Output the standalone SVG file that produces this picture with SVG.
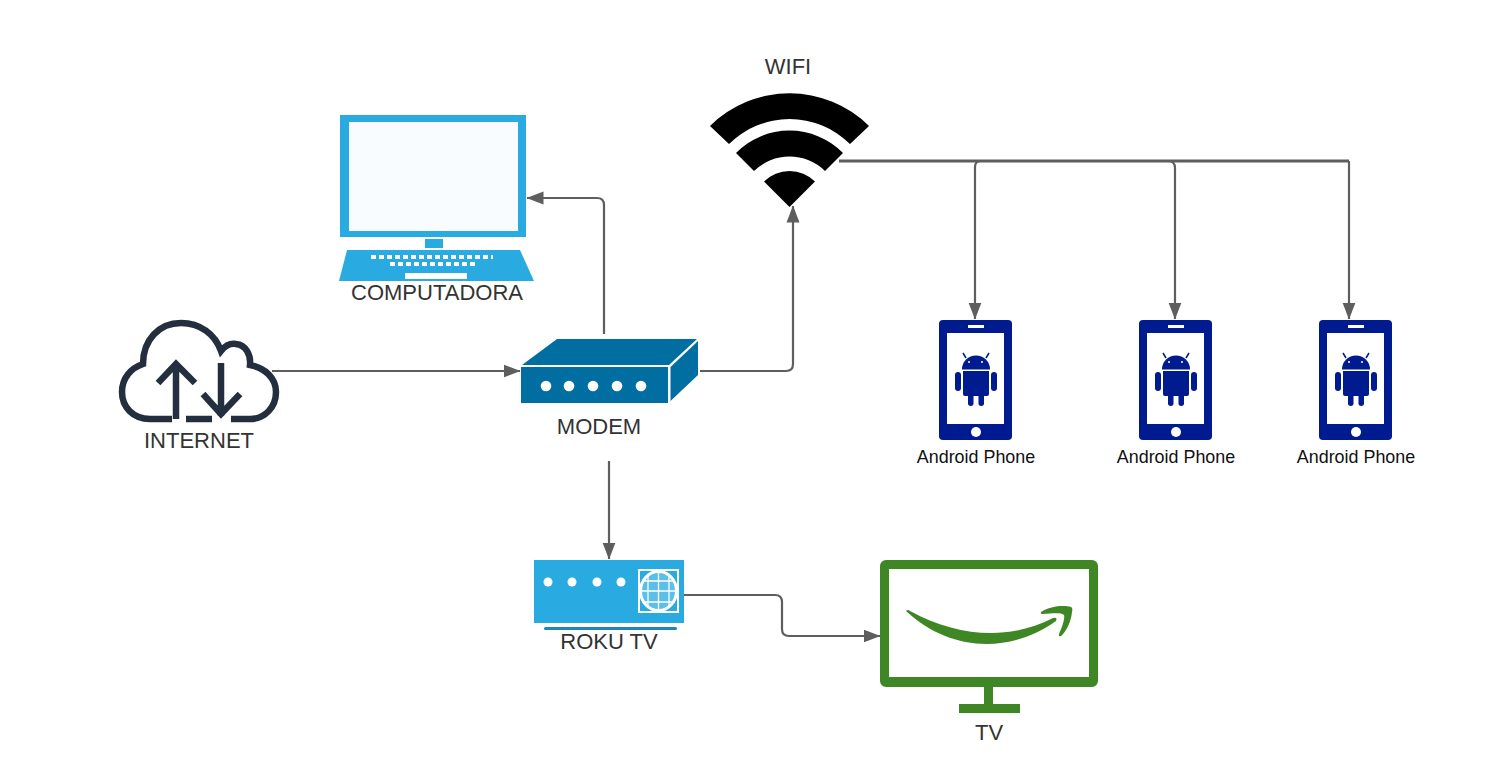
<svg xmlns="http://www.w3.org/2000/svg" xmlns:xlink="http://www.w3.org/1999/xlink" width="1502" height="783" viewBox="0 0 1502 783">
<style>
text{font-family:"Liberation Sans",Arial,sans-serif;text-anchor:middle}
.lbl{font-size:22px;fill:#333}
.ph{font-size:17.9px;fill:#111}
.c{fill:none;stroke:#5e5e5e;stroke-width:2.200;stroke-linejoin:round}
.blue{fill:#29abe2}
.teal{fill:#006ea1}
.navy{fill:#001a8f}
.green{fill:#3f8624}
.w{fill:#fff}
</style>
<defs>
<marker id="arr" markerUnits="userSpaceOnUse" markerWidth="18" markerHeight="14" refX="16.500" refY="7" orient="auto"><path d="M0 0.500L17 7L0 13.500Z" fill="#5e5e5e"/></marker>
<g id="phone">
<rect x="0" y="0" width="73" height="120" rx="4" class="navy"/>
<rect x="8" y="13" width="57" height="91" class="w"/>
<rect x="29" y="5" width="16" height="3" class="w"/>
<circle cx="37" cy="112" r="5" class="w"/>
<path d="M23 49.500a14 14 0 0 1 28 0Z" class="navy"/>
<path d="M27 38L24 33M47 38L50 33" stroke="#001a8f" stroke-width="1.500" fill="none"/>
<circle cx="30" cy="42" r="1" class="w"/><circle cx="43" cy="42" r="1" class="w"/>
<path d="M24 51H50V74a2 2 0 0 1-2 2H26a2 2 0 0 1-2-2Z" class="navy"/>
<rect x="16" y="52" width="6" height="19" rx="3" class="navy"/>
<rect x="52" y="52" width="6" height="19" rx="3" class="navy"/>
<rect x="29" y="72" width="5.500" height="14" rx="2.700" class="navy"/>
<rect x="39.500" y="72" width="5.500" height="14" rx="2.700" class="navy"/>
</g>
</defs>
<rect width="1502" height="783" fill="#fff"/>
<g id="connectors">
<path class="c" marker-end="url(#arr)" d="M272 371H520"/>
<path class="c" marker-end="url(#arr)" d="M604 334V205Q604 198 597 198H527"/>
<path class="c" marker-end="url(#arr)" d="M700 371H786Q793 371 793 364V206"/>
<path class="c" style="stroke-width:3" d="M839 161H1349"/>
<path class="c" marker-end="url(#arr)" d="M981 161Q975 161 975 167V319"/>
<path class="c" marker-end="url(#arr)" d="M1168 161Q1175 161 1175 168V319"/>
<path class="c" marker-end="url(#arr)" d="M1349 161V319"/>
<path class="c" marker-end="url(#arr)" d="M609 461V559"/>
<path class="c" marker-end="url(#arr)" d="M684 595H775Q782 595 782 602V629Q782 636 789 636H880"/>
</g>
<g id="computadora">
<rect x="340" y="115" width="186" height="122" class="blue"/>
<rect x="349" y="122" width="169" height="109" fill="#f8fcfe"/>
<rect x="425" y="239" width="18" height="9" class="blue"/>
<path d="M347 250H520L534 281H339Z" class="blue"/>
<path d="M371 257H493M390 264H476" stroke="#fff" stroke-width="4" stroke-dasharray="5 3" fill="none"/>
<rect x="405" y="273" width="62" height="6" class="w"/>
<text class="lbl" x="437" y="300">COMPUTADORA</text>
</g>
<g id="internet">
<path d="M172 419H150C133 419 122 407 122 392C122 378 131 368 143 364C143 340 159 323 181 323C200 323 215 334 221 351C225 346 230 343 236 344C246 345 251 355 250 365C265 368 276 378 276 392C276 407 265 419 250 419H231M212 419H186" fill="none" stroke="#232f3e" stroke-width="6.500"/>
<path d="M176 419V364M158 383L176 364L195 383M221 363V416M203 394L221 414L240 394" fill="none" stroke="#232f3e" stroke-width="6.500"/>
<text class="lbl" x="199" y="448">INTERNET</text>
</g>
<g id="modem">
<rect x="521" y="367" width="147" height="36" class="teal"/>
<path d="M522 365L557 339H697L669 365Z" class="teal"/>
<path d="M670.500 367L698 341V375L670.500 401Z" class="teal"/>
<circle cx="546" cy="386" r="5.300" class="w"/><circle cx="569" cy="386" r="5.300" class="w"/><circle cx="593" cy="386" r="5.300" class="w"/><circle cx="617" cy="386" r="5.300" class="w"/><circle cx="641" cy="386" r="5.300" class="w"/>
<text class="lbl" x="599" y="434">MODEM</text>
</g>
<g id="wifi">
<path d="M789.500 207L764 181.500A36 36 0 0 1 815 181.500Z" fill="#000"/>
<path d="M736 153A75 75 0 0 1 843 153L825 171A51 51 0 0 0 754 171Z" fill="#000"/>
<path d="M710 126A113 113 0 0 1 869 126L850 144A86 86 0 0 0 729 144Z" fill="#000"/>
<text class="lbl" x="788" y="74">WIFI</text>
</g>
<g id="phone1"><use xlink:href="#phone" href="#phone" x="939" y="320"/><text class="ph" x="976" y="463">Android Phone</text></g>
<g id="phone2"><use xlink:href="#phone" href="#phone" x="1139" y="320"/><text class="ph" x="1176" y="463">Android Phone</text></g>
<g id="phone3"><use xlink:href="#phone" href="#phone" x="1319" y="320"/><text class="ph" x="1356" y="463">Android Phone</text></g>
<g id="roku">
<rect x="534" y="560" width="150" height="63" class="blue"/>
<circle cx="548" cy="582" r="4.500" class="w"/><circle cx="572" cy="582" r="4.500" class="w"/><circle cx="597" cy="582" r="4.500" class="w"/><circle cx="621" cy="582" r="4.500" class="w"/>
<rect x="639" y="570" width="39" height="42" fill="#29abe2" stroke="#fff" stroke-width="2"/>
<ellipse cx="658.500" cy="591" rx="18" ry="19.500" fill="#5bbfea" stroke="#fff" stroke-width="3"/>
<path d="M658.500 571V611M640 591H677M648 574V608M669 574V608M642 581H675M642 602H675" stroke="#fff" stroke-width="1.300" fill="none"/>
<rect x="544" y="627" width="133" height="3" rx="1.500" fill="#1f87b5"/>
<text class="lbl" x="609" y="649">ROKU TV</text>
</g>
<g id="tv">
<path fill-rule="evenodd" d="M886 560H1092a6 6 0 0 1 6 6V681a6 6 0 0 1-6 6H886a6 6 0 0 1-6-6V566a6 6 0 0 1 6-6ZM889 569V677H1089V569Z" class="green"/>
<path d="M984 687H993V704H1020V713H959V704H984Z" class="green"/>
<path d="M906 611Q908 609 910 611C960 638 1010 640 1053 618Q1058 617 1056 621C1010 654 950 652 906 611Z" class="green"/>
<path d="M1041 612C1050 606 1064 605 1071 607Q1073 608 1072 612C1071 622 1066 632 1061 636Q1058 637 1059 634C1063 625 1065 618 1064 615C1060 612 1050 614 1043 614Q1040 614 1041 612Z" class="green"/>
<text class="lbl" x="989" y="740">TV</text>
</g>
</svg>
